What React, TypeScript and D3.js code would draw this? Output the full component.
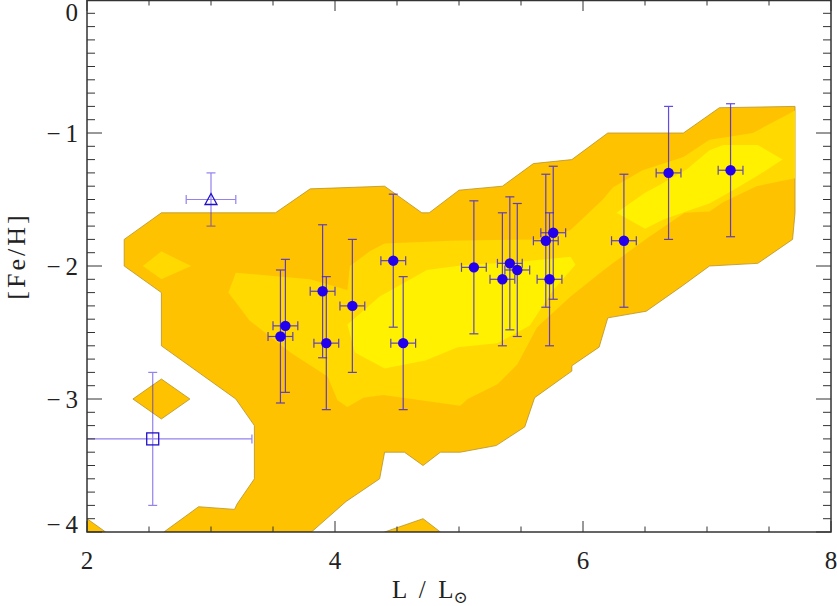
import React from "react";
import * as d3 from "d3";

// ---- data ----
const xTicksMajor = [2, 4, 6, 8];
const yTicksMajor = [0, -1, -2, -3, -4];

// contour level 1 (outer)
const outerMain: [number, number][] = [
  [2.3, -1.8], [2.6, -1.6], [3.52, -1.6], [3.8, -1.42], [4.4, -1.4], [4.7, -1.6], [4.76, -1.6],
  [5.0, -1.43], [5.35, -1.4], [5.6, -1.23], [5.91, -1.2], [6.2, -1.0], [6.81, -1.0], [7.1, -0.81],
  [7.71, -0.8], [7.71, -1.6], [7.69, -1.8], [7.41, -1.98], [7.02, -2.0], [6.8, -2.15], [6.51, -2.34],
  [6.2, -2.39], [6.13, -2.61], [5.91, -2.75], [5.91, -2.79], [5.61, -2.99], [5.53, -3.21], [5.3, -3.35],
  [5.01, -3.4], [4.85, -3.4], [4.71, -3.5], [4.56, -3.4], [4.4, -3.4], [4.36, -3.6], [4.09, -3.77],
  [3.81, -4.0], [2.62, -4.0], [2.9, -3.81], [3.19, -3.83], [3.21, -3.79], [3.35, -3.6], [3.35, -3.2],
  [3.2, -3.0], [2.6, -2.6], [2.6, -2.2], [2.3, -2.0],
];
const outerDiamond: [number, number][] = [[2.37, -3.0], [2.6, -2.85], [2.83, -3.0], [2.6, -3.15]];
const outerCorner: [number, number][] = [[2.0, -3.9], [2.15, -4.0], [2.0, -4.0]];
const outerBump: [number, number][] = [[4.4, -4.0], [4.71, -3.9], [4.85, -4.0]];

// contour level 2 (middle)
const midMain: [number, number][] = [
  [3.14, -2.2], [3.2, -2.05], [3.8, -2.1], [4.1, -2.18], [4.12, -2.0], [4.28, -1.89], [4.4, -1.83],
  [4.93, -1.81], [5.63, -1.8], [5.9, -1.73], [6.16, -1.5], [6.24, -1.41], [6.48, -1.28], [6.81, -1.18],
  [7.02, -1.05], [7.37, -1.0], [7.71, -0.83], [7.71, -1.34], [7.4, -1.4], [7.13, -1.52], [7.02, -1.59],
  [6.82, -1.6], [6.52, -1.79], [6.24, -1.98], [6.14, -2.05], [5.9, -2.23], [5.63, -2.46], [5.47, -2.74],
  [5.31, -2.89], [5.07, -3.0], [5.01, -3.05], [4.69, -3.01], [4.39, -2.97], [4.23, -2.99], [4.1, -3.06],
  [4.02, -3.01], [3.94, -2.83], [3.64, -2.65], [3.31, -2.41],
];
const midDiamond: [number, number][] = [[2.45, -2.0], [2.6, -1.89], [2.84, -2.0], [2.6, -2.1]];

// contour level 3 (inner)
const innerMain: [number, number][] = [
  [4.1, -2.44], [4.36, -2.23], [4.55, -2.13], [4.74, -2.03], [5.06, -1.99], [5.47, -1.97], [5.9, -1.93],
  [5.94, -1.99], [5.76, -2.18], [5.57, -2.45], [5.31, -2.58], [4.99, -2.61], [4.73, -2.71], [4.4, -2.77],
  [4.16, -2.65],
];
const innerUpper: [number, number][] = [
  [6.27, -1.6], [6.5, -1.45], [6.62, -1.39], [6.84, -1.27], [7.02, -1.13], [7.13, -1.09], [7.41, -1.09],
  [7.61, -1.2], [7.41, -1.32], [7.21, -1.43], [7.02, -1.53], [6.86, -1.58], [6.65, -1.65], [6.5, -1.72],
];

// stars (filled circles)
const starL = [3.6, 3.56, 3.9, 3.93, 4.14, 4.47, 4.55, 5.12, 5.35, 5.41, 5.47, 5.7, 5.76, 5.73, 6.33, 6.69, 7.19];
const starFe = [-2.45, -2.53, -2.19, -2.58, -2.3, -1.96, -2.58, -2.01, -2.1, -1.98, -2.03, -1.81, -1.75, -2.1, -1.81, -1.3, -1.28];
const starLErr = 0.1;
const starFeErr = 0.5;

// triangle point
const triL = 3.0, triFe = -1.5, triLErr = 0.2, triFeErr = 0.2;
// square point
const sqL = 2.53, sqFe = -3.3, sqLErr = 0.8, sqFeErr = 0.5;

const W = 837, H = 606;
const X0 = 87, X1 = 831, Y0 = 0, Y1 = 532;

export default function App() {
  const x = d3.scaleLinear().domain([2, 8]).range([X0, X1]);
  const y = d3.scaleLinear().domain([-4, 0]).range([Y1, Y0]);
  const line = d3.line<[number, number]>().x((d) => x(d[0])).y((d) => y(d[1])).curve(d3.curveLinearClosed);

  const C1 = "#FFC200", C2 = "#FFD900", C3 = "#FFF100";
  const edge = "#b8922a";
  const barColor = "#3a1ee0";
  const font = "'Liberation Serif', 'DejaVu Serif', serif";

  const xMinor = d3.range(2, 8.001, 0.5);
  const yMinor = d3.range(-4, 0.001, 0.1).map((v) => Math.round(v * 10) / 10);

  const errBar = (cx: number, cy: number, ex: number, ey: number, key: string, op = 0.8) => {
    const xl = Math.max(x(cx - ex), X0), xr = x(cx + ex);
    const yt = y(cy + ey), yb = y(cy - ey);
    const c = 4.5;
    return (
      <g key={key} stroke={barColor} strokeWidth={1.2} opacity={op} fill="none">
        <line x1={xl} x2={xr} y1={y(cy)} y2={y(cy)} />
        <line x1={x(cx)} x2={x(cx)} y1={yt} y2={yb} />
        {cx - ex >= 2 && <line x1={xl} x2={xl} y1={y(cy) - c} y2={y(cy) + c} />}
        <line x1={xr} x2={xr} y1={y(cy) - c} y2={y(cy) + c} />
        <line x1={x(cx) - c} x2={x(cx) + c} y1={yt} y2={yt} />
        <line x1={x(cx) - c} x2={x(cx) + c} y1={yb} y2={yb} />
      </g>
    );
  };

  return (
    <svg width={W} height={H} style={{ position: "absolute", left: 0, top: 0, background: "#fff" }}>
      <defs>
        <clipPath id="plot">
          <rect x={X0} y={Y0} width={X1 - X0} height={Y1 - Y0} />
        </clipPath>
      </defs>
      <g clipPath="url(#plot)">
        {[outerMain, outerDiamond, outerCorner, outerBump].map((p, i) => (
          <path key={"o" + i} d={line(p) || ""} fill={C1} stroke={edge} strokeWidth={0.8} />
        ))}
        {[midMain, midDiamond].map((p, i) => (
          <path key={"m" + i} d={line(p) || ""} fill={C2} />
        ))}
        {[innerMain, innerUpper].map((p, i) => (
          <path key={"i" + i} d={line(p) || ""} fill={C3} />
        ))}
        {starL.map((l, i) => errBar(l, starFe[i], starLErr, starFeErr, "e" + i))}
        {errBar(triL, triFe, triLErr, triFeErr, "tri", 0.55)}
        {errBar(sqL, sqFe, sqLErr, sqFeErr, "sq", 0.55)}
        {starL.map((l, i) => (
          <circle key={"c" + i} cx={x(l)} cy={y(starFe[i])} r={5.2} fill="#2200ee" />
        ))}
        <path
          d={`M${x(triL)},${y(triFe) - 6} L${x(triL) + 6},${y(triFe) + 5} L${x(triL) - 6},${y(triFe) + 5} Z`}
          fill="none" stroke="#2010c8" strokeWidth={1.3}
        />
        <rect x={x(sqL) - 6} y={y(sqFe) - 6} width={12} height={12} fill="none" stroke="#2010c8" strokeWidth={1.3} />
      </g>

      {/* ticks */}
      <g stroke="#333" strokeWidth={1}>
        {xMinor.map((v) => {
          const major = xTicksMajor.includes(v);
          const len = major ? 11 : 5.5;
          return (
            <g key={"xt" + v}>
              <line x1={x(v)} x2={x(v)} y1={Y1} y2={Y1 - len} />
              <line x1={x(v)} x2={x(v)} y1={Y0} y2={Y0 + len} />
            </g>
          );
        })}
        {yMinor.map((v) => {
          const major = Math.abs(v - Math.round(v)) < 1e-6;
          const len = major ? 15 : 8;
          return (
            <g key={"yt" + v}>
              <line x1={X0} x2={X0 + len} y1={y(v)} y2={y(v)} />
              <line x1={X1} x2={X1 - len} y1={y(v)} y2={y(v)} />
            </g>
          );
        })}
      </g>
      <rect x={X0} y={Y0 + 0.5} width={X1 - X0} height={Y1 - Y0 - 0.5} fill="none" stroke="#333" strokeWidth={1.5} />

      {/* tick labels */}
      <g fontFamily={font} fontSize={25} fill="#222">
        {xTicksMajor.map((v) => (
          <text key={"xl" + v} x={x(v)} y={569} textAnchor="middle">{v}</text>
        ))}
        {yTicksMajor.map((v) => {
          const yy = Math.min(Math.max(y(v), Y0 + 12), Y1 - 8);
          return (
            <text key={"yl" + v} x={78} y={yy} dy="0.35em" textAnchor="end">
              {v < 0 ? "\u2212\u2009" + Math.abs(v) : String(v)}
            </text>
          );
        })}
      </g>

      {/* axis titles */}
      <text x={392} y={598} fontFamily={font} fontSize={25} fill="#222" xmlSpace="preserve">
        {"L  /  L"}<tspan fontSize={17} dy={5}>⊙</tspan>
      </text>
      <text transform={`translate(25, ${256}) rotate(-90)`} textAnchor="middle" fontFamily={font} fontSize={26} letterSpacing={3} fill="#222">
        [Fe/H]
      </text>
    </svg>
  );
}
